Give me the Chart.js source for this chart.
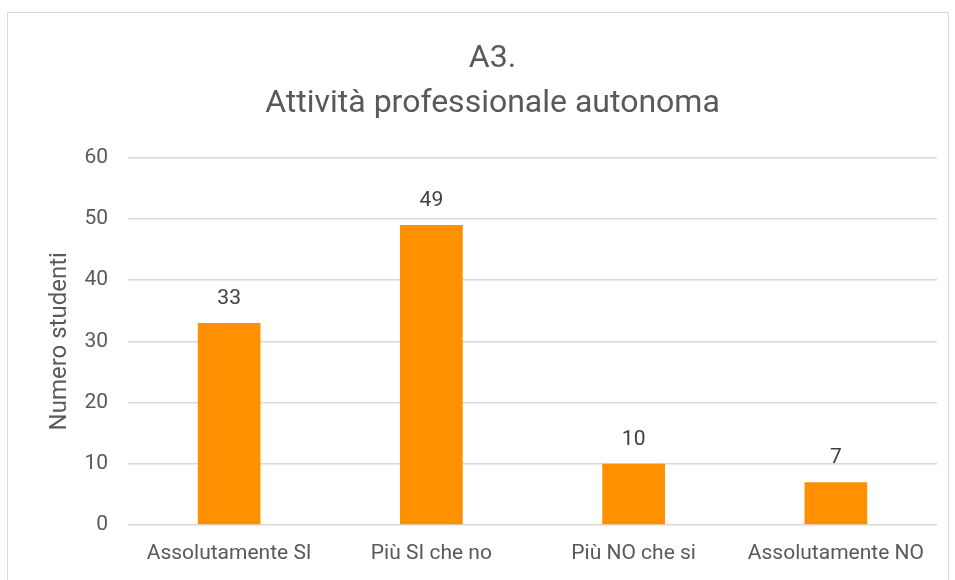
<!DOCTYPE html>
<html>
<head>
<meta charset="utf-8">
<script src="https://cdn.jsdelivr.net/npm/chart.js@4"></script>
<style>
  body { margin: 0; background: #fff; }
  #frame {
    position: absolute; left: 7px; top: 12px;
    width: 942px; height: 580px;
    border: 1px solid #d9d9d9; box-sizing: border-box;
  }
  #wrap { position: absolute; left: 0; top: 0; width: 940px; height: 566px; }
</style>
</head>
<body>
<div id="frame"><div id="wrap"><canvas id="barChart"></canvas></div></div>
<script>
// Chart data
const categories = ["Assolutamente SI", "Più SI che no", "Più NO che si", "Assolutamente NO"];
const studenti = [33, 49, 10, 7];
const yTicks = [0, 10, 20, 30, 40, 50, 60];

const textColor = "#595959";
const fontName = "Roboto, 'Liberation Sans', sans-serif";

// draw the value above each bar
const valueLabels = {
  id: "valueLabels",
  afterDatasetsDraw(chart) {
    const ctx = chart.ctx;
    const meta = chart.getDatasetMeta(0);
    ctx.save();
    ctx.fillStyle = "#404040";
    ctx.font = "21px " + fontName;
    ctx.textAlign = "center";
    ctx.textBaseline = "middle";
    meta.data.forEach(function (bar, i) {
      ctx.fillText(String(studenti[i]), bar.x, bar.y - 24);
    });
    ctx.restore();
  },
};

document.addEventListener("DOMContentLoaded", function () {
  const ctx = document.getElementById("barChart").getContext("2d");

  new Chart(ctx, {
    type: "bar",
    data: {
      labels: categories,
      datasets: [
        {
          label: "Numero studenti",
          data: studenti,
          backgroundColor: "#ff9100",
          barPercentage: 0.31,
          categoryPercentage: 1,
        },
      ],
    },
    options: {
      responsive: true,
      maintainAspectRatio: false,
      animation: false,
      layout: { padding: { left: 40, right: 11, top: 24, bottom: 10 } },
      plugins: {
        legend: { display: false },
        tooltip: { enabled: false },
        title: {
          display: true,
          text: ["A3.", "Attività professionale autonoma"],
          color: textColor,
          font: { family: fontName, size: 32, weight: "normal", lineHeight: 1.4 },
          padding: { top: 0, bottom: 31 },
        },
      },
      scales: {
        x: {
          afterFit: function (axis) { axis.height = 44; },
          grid: { display: false, drawTicks: false },
          border: { display: false },
          ticks: {
            color: textColor,
            font: { family: fontName, size: 21 },
            padding: 16,
            maxRotation: 0,
          },
        },
        y: {
          min: 0,
          max: 60,
          afterFit: function (axis) { axis.width = 80; },
          afterBuildTicks: function (axis) {
            axis.ticks = yTicks.map(function (v) { return { value: v }; });
          },
          grid: { color: "#d9d9d9", lineWidth: 1.5, drawTicks: false },
          border: { display: false },
          ticks: {
            color: textColor,
            font: { family: fontName, size: 21 },
            padding: 20,
          },
          title: {
            display: true,
            text: "Numero studenti",
            color: textColor,
            font: { family: fontName, size: 24, lineHeight: 1 },
            padding: { top: 0, bottom: 0 },
          },
        },
      },
    },
    plugins: [valueLabels],
  });
});
</script>
</body>
</html>
